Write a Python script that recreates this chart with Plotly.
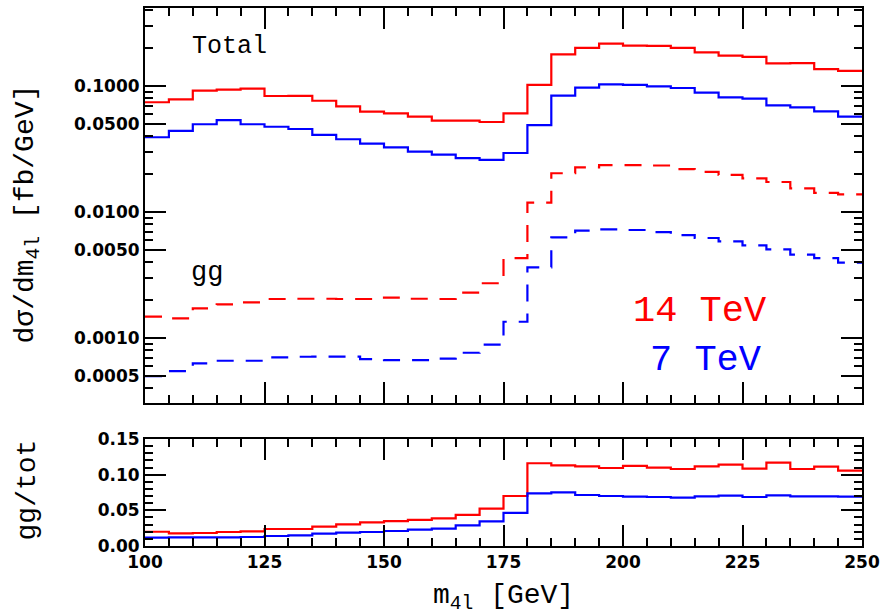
import plotly.graph_objects as go
from plotly.subplots import make_subplots
import math

# bin lower edges (5 GeV bins from 100 to 250)
bins_lo = list(range(100, 250, 5))
x_end = 250

tot14 = [0.0743, 0.0784, 0.0918, 0.0935, 0.0952, 0.0833, 0.0836, 0.0764, 0.0690, 0.0626,
         0.0607, 0.0571, 0.0531, 0.0531, 0.0518, 0.0607, 0.102, 0.178, 0.201, 0.217,
         0.209, 0.208, 0.201, 0.185, 0.174, 0.170, 0.151, 0.152, 0.136, 0.132]
tot7 = [0.0392, 0.0440, 0.0497, 0.0537, 0.0497, 0.0475, 0.0456, 0.0409, 0.0378, 0.0349,
        0.0326, 0.0301, 0.0285, 0.0268, 0.0259, 0.0294, 0.0490, 0.0838, 0.0970, 0.103,
        0.102, 0.0994, 0.0964, 0.0885, 0.0813, 0.0793, 0.0703, 0.0677, 0.0630, 0.0571]
gg14 = [0.00148, 0.00143, 0.00172, 0.00185, 0.00192, 0.00204, 0.00205, 0.00205, 0.00204, 0.00204,
        0.00209, 0.00205, 0.00204, 0.00229, 0.00272, 0.00431, 0.01186, 0.0203, 0.0226, 0.0236,
        0.0236, 0.0234, 0.0219, 0.0208, 0.0197, 0.0185, 0.0173, 0.0154, 0.0142, 0.0138]
gg7 = [0.000499, 0.000547, 0.000630, 0.000660, 0.000660, 0.000703, 0.000710, 0.000712, 0.000712, 0.000681,
       0.000668, 0.000668, 0.000685, 0.000764, 0.000885, 0.001346, 0.00364, 0.00629, 0.00711, 0.00729,
       0.00720, 0.00693, 0.00656, 0.00622, 0.00585, 0.00544, 0.00506, 0.00459, 0.00430, 0.00396]
ratio14 = [0.0200, 0.0178, 0.0182, 0.0196, 0.0206, 0.0238, 0.0238, 0.0271, 0.0304, 0.0332,
           0.0350, 0.0365, 0.0388, 0.0435, 0.0523, 0.0701, 0.1160, 0.1131, 0.1117, 0.1093,
           0.1122, 0.1098, 0.1079, 0.1117, 0.1140, 0.1084, 0.1168, 0.1079, 0.1112, 0.1056]
ratio7 = [0.0117, 0.0121, 0.0121, 0.0121, 0.0126, 0.0140, 0.0150, 0.0173, 0.0187, 0.0196,
          0.0210, 0.0229, 0.0243, 0.0290, 0.0346, 0.0463, 0.0739, 0.0753, 0.0715, 0.0701,
          0.0691, 0.0687, 0.0677, 0.0697, 0.0705, 0.0687, 0.0711, 0.0697, 0.0697, 0.0691]

x_ticks = [100, 125, 150, 175, 200, 225, 250]
x_ticktext = ["100", "125", "150", "175", "200", "225", "250"]
y_ticks = [0.1, 0.05, 0.01, 0.005, 0.001, 0.0005]
y_ticktext = ["0.1000", "0.0500", "0.0100", "0.0050", "0.0010", "0.0005"]
r_ticks = [0.0, 0.05, 0.10, 0.15]
r_ticktext = ["0.00", "0.05", "0.10", "0.15"]

RED = "#ff0000"
BLUE = "#0000ff"
TXT_FONT = "Liberation Mono"
TICK_FONT = dict(family="DejaVu Sans", size=17, color="black", weight="bold")

def step(vals):
    return bins_lo + [x_end], list(vals) + [vals[-1]]

fig = make_subplots(rows=2, cols=1, shared_xaxes=False, vertical_spacing=0.0)

for vals, col, dash in [(tot14, RED, "solid"), (tot7, BLUE, "solid"),
                        (gg14, RED, "17px,12px"), (gg7, BLUE, "17px,12px")]:
    xs, ys = step(vals)
    fig.add_trace(go.Scatter(x=xs, y=ys, mode="lines", line_shape="hv",
                             line=dict(color=col, width=2.2, dash=dash),
                             showlegend=False, hoverinfo="skip"), row=1, col=1)

for vals, col in [(ratio14, RED), (ratio7, BLUE)]:
    xs, ys = step(vals)
    fig.add_trace(go.Scatter(x=xs, y=ys, mode="lines", line_shape="hv",
                             line=dict(color=col, width=2.2),
                             showlegend=False, hoverinfo="skip"), row=2, col=1)

minor_x = [v for v in range(100, 251, 5) if v % 25 != 0]
decade_minor = []
for e in [-4, -3, -2, -1]:
    for m in range(1, 10):
        v = m * 10 ** e
        if m == 1 or m == 5:
            continue
        decade_minor.append(v)
r_minor = [i / 100 for i in range(0, 16) if i % 5 != 0]

common_x = dict(range=[100, 250], showline=True, linecolor="black", linewidth=2,
                mirror="ticks", ticks="inside", ticklen=21, tickwidth=2, tickcolor="black",
                tickmode="array", tickvals=x_ticks, ticktext=x_ticktext,
                minor=dict(tickmode="array", tickvals=minor_x, ticks="inside", ticklen=8,
                           tickwidth=2, tickcolor="black"),
                showgrid=False, zeroline=False, tickfont=TICK_FONT, automargin=False)

fig.update_xaxes(**common_x, showticklabels=False, row=1, col=1)
fig.update_xaxes(**common_x, showticklabels=True, row=2, col=1)

fig.update_yaxes(type="log", range=[math.log10(0.000305), math.log10(0.416)],
                 showline=True, linecolor="black", linewidth=2, mirror="ticks",
                 ticks="inside", ticklen=21, tickwidth=2, tickcolor="black",
                 tickmode="array", tickvals=y_ticks, ticktext=y_ticktext,
                 minor=dict(tickmode="array", tickvals=decade_minor, ticks="inside",
                            ticklen=8, tickwidth=2, tickcolor="black"),
                 showgrid=False, zeroline=False, tickfont=TICK_FONT, automargin=False,
                 row=1, col=1)
fig.update_yaxes(range=[0, 0.15],
                 showline=True, linecolor="black", linewidth=2, mirror="ticks",
                 ticks="inside", ticklen=21, tickwidth=2, tickcolor="black",
                 tickmode="array", tickvals=r_ticks, ticktext=r_ticktext,
                 minor=dict(tickmode="array", tickvals=r_minor, ticks="inside",
                            ticklen=8, tickwidth=2, tickcolor="black"),
                 showgrid=False, zeroline=False, tickfont=TICK_FONT, automargin=False,
                 row=2, col=1)

fig.update_layout(
    xaxis=dict(domain=[0, 1]),
    xaxis2=dict(domain=[0, 1]),
    yaxis=dict(domain=[0.2658, 1.0]),
    yaxis2=dict(domain=[0.0, 0.1989]),
    width=880, height=614,
    margin=dict(l=145, r=18, t=8, b=68, autoexpand=False),
    paper_bgcolor="white", plot_bgcolor="white",
)

ann = []
ann.append(dict(text="Total", xref="x domain", yref="y domain", x=0.0628, y=0.902,
                xanchor="left", yanchor="middle", showarrow=False,
                font=dict(family=TXT_FONT, size=25, color="black")))
ann.append(dict(text="gg", xref="x domain", yref="y domain", x=0.0614, y=0.329,
                xanchor="left", yanchor="middle", showarrow=False,
                font=dict(family=TXT_FONT, size=27, color="black")))
ann.append(dict(text="14 TeV", xref="x domain", yref="y domain", x=0.869, y=0.232,
                xanchor="right", yanchor="middle", showarrow=False,
                font=dict(family=TXT_FONT, size=37, color=RED)))
ann.append(dict(text="7 TeV", xref="x domain", yref="y domain", x=0.862, y=0.108,
                xanchor="right", yanchor="middle", showarrow=False,
                font=dict(family=TXT_FONT, size=37, color=BLUE)))
ann.append(dict(text="dσ/dm<sub>4l</sub> [fb/GeV]", xref="paper", yref="paper",
                x=-0.164, y=0.617, xanchor="center", yanchor="middle", textangle=-90,
                showarrow=False, font=dict(family=TXT_FONT, size=28, color="black")))
ann.append(dict(text="gg/tot", xref="paper", yref="paper",
                x=-0.164, y=0.104, xanchor="center", yanchor="middle", textangle=-90,
                showarrow=False, font=dict(family=TXT_FONT, size=28, color="black")))
ann.append(dict(text="m<sub>4l</sub> [GeV]", xref="paper", yref="paper",
                x=0.5, y=-0.095, xanchor="center", yanchor="middle",
                showarrow=False, font=dict(family=TXT_FONT, size=28, color="black")))
fig.update_layout(annotations=ann)

fig.write_html("out.html", config={"displayModeBar": False},
               post_script="document.body.style.margin='0';document.body.style.padding='0';")
